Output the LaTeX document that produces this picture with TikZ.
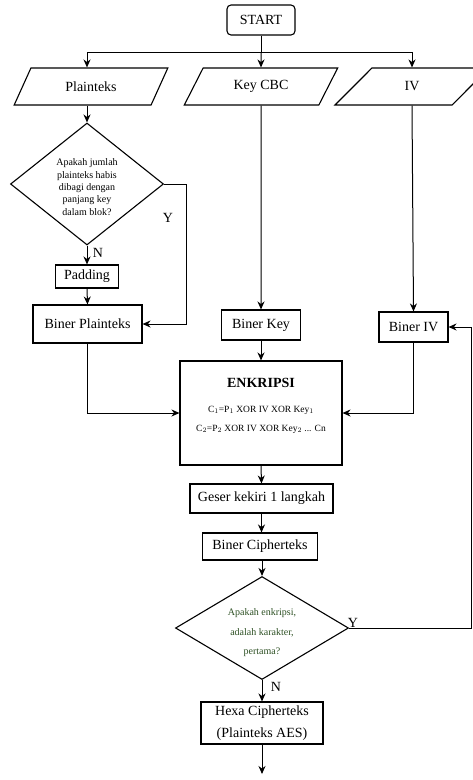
\documentclass[tikz,border=0pt]{standalone}
\usepackage{fontspec}
\setmainfont{Liberation Serif}
\usetikzlibrary{shapes.geometric,arrows.meta}
\newcommand{\fsz}[2]{\fontsize{#1}{#2}\selectfont}
\definecolor{dgreen}{RGB}{45,80,35}
\tikzset{
  box/.style={draw, line width=1.1pt, fill=white, inner sep=0pt, font=\fsz{14}{16}},
  para/.style={trapezium, trapezium left angle=54, trapezium right angle=126,
    trapezium stretches=true, draw, line width=1.1pt, fill=white,
    minimum width=154pt, minimum height=37pt, inner sep=0pt, font=\fsz{14}{16}},
  dec/.style={diamond, draw, line width=1.1pt, fill=white, inner sep=0pt},
  arr/.style={line width=1pt, -{Stealth[length=8pt,width=7pt]}},
  ln/.style={line width=1pt},
  lbl/.style={font=\fsz{14}{16}, inner sep=0pt}
}
\begin{document}
\begin{tikzpicture}[x=1pt,y=-1pt]
\useasboundingbox (0,0) rectangle (473,780);

% nodes
\node[box, rounded corners=4pt, minimum width=68pt, minimum height=30pt] (start) at (261,20) {START};
\coordinate (j) at (261,52);
\node[para] (plain) at (91,86.5) {Plainteks};
\node[para] (key) at (261,86.5) {Key CBC};
\node[para] (iv) at (412,86.5) {IV};

\node[dec, minimum width=153pt, minimum height=122pt] (d1) at (87,184) {};
\node[font=\fsz{10}{12.3}, align=center, inner sep=0pt] (d1t) at (87,187)
  {Apakah jumlah\\plainteks habis\\dibagi dengan\\panjang key\\dalam blok?};
\node[lbl] (ly1) at (168,218) {Y};
\node[lbl] (ln1) at (98,253) {N};

\node[box, minimum width=63pt, minimum height=23pt] (pad) at (87,276.5) {Padding};
\node[box, minimum width=109pt, minimum height=38pt] (bp) at (87.5,324) {Biner Plainteks};
\node[box, minimum width=79pt, minimum height=30pt] (bk) at (261,325) {Biner Key};
\node[box, minimum width=69pt, minimum height=30pt] (biv) at (413.5,327) {Biner IV};

\node[box, minimum width=162pt, minimum height=104pt] (enk) at (261,413) {};
\node[font=\bfseries\fsz{14}{16}, inner sep=0pt] (enkt) at (261,383) {ENKRIPSI};
\node[font=\fsz{9.5}{11}, inner sep=0pt] (enk1) at (261,410) {C$_1$=P$_1$ XOR IV XOR Key$_1$};
\node[font=\fsz{9.5}{11}, inner sep=0pt] (enk2) at (261,429) {C$_2$=P$_2$ XOR IV XOR Key$_2$ ... Cn};

\node[box, minimum width=143pt, minimum height=29pt] (geser) at (261.5,498.5) {Geser kekiri 1 langkah};
\node[box, minimum width=115pt, minimum height=27pt] (bc) at (260,546.5) {Biner Cipherteks};

\node[dec, minimum width=173pt, minimum height=103pt] (d2) at (262,628) {};
\node[font=\fsz{10}{19.5}, align=center, inner sep=0pt, text=dgreen] (d2t) at (262,633)
  {Apakah enkripsi,\\adalah karakter,\\pertama?};
\node[lbl] (ly2) at (353,623) {Y};
\node[lbl] (ln2) at (276,687) {N};

\node[box, align=center, font=\fsz{14}{22}, minimum width=122pt, minimum height=42pt] (hexa) at (262,723) {Hexa Cipherteks\\(Plainteks AES)};
\coordinate (end) at (262,774);

% connectors
\draw[ln] (start) -- (j);
\draw[arr] (j) -| (plain.north -| d1.north);
\draw[arr] (j) -- (key.north);
\draw[arr] (j) -| (iv.north);

\draw[arr] (plain.south -| d1.north) -- (d1.north);
\draw[arr] (d1.south) -- (pad.north);
\draw[arr] (pad.south) -- (bp.north);
\draw[arr] (d1.east) -- ++(22,0) |- (bp.east);

\draw[arr] (key.south) -- (bk.north);
\draw[arr] (iv.south) -- (biv.north);

\draw[arr] (bp.south) |- (enk.west);
\draw[arr] (bk.south) -- (enk.north);
\draw[arr] (biv.south) |- (enk.east);

\draw[arr] (enk.south) -- (geser.north);
\draw[arr] (geser.south) -- (bc.north -| geser.south);
\draw[arr] (bc.south -| d2.north) -- (d2.north);
\draw[arr] (d2.east) -- ++(122.5,0) |- (biv.east);
\draw[arr] (d2.south) -- (hexa.north);
\draw[arr] (hexa.south) -- (end);
\end{tikzpicture}
\end{document}
